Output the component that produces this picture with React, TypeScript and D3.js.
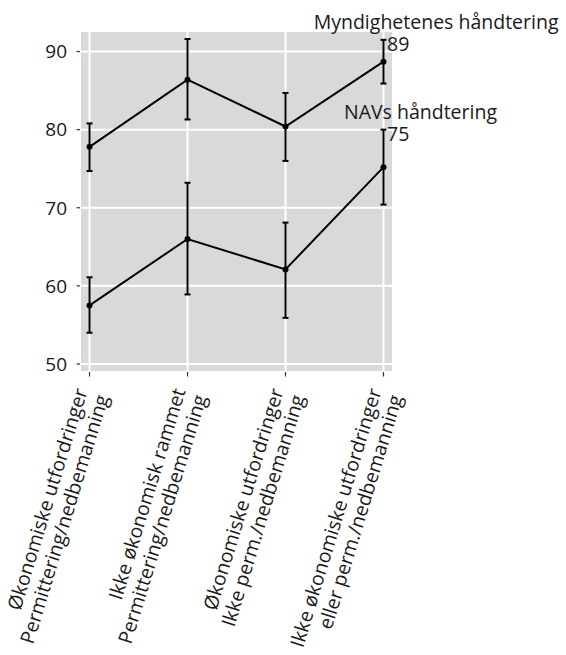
import React, { useEffect, useRef } from 'react';
import * as d3 from 'd3';

const WIDTH = 566;
const HEIGHT = 655;

const categories = [
  'Økonomiske utfordringer\nPermittering/nedbemanning',
  'Ikke økonomisk rammet\nPermittering/nedbemanning',
  'Økonomiske utfordringer\nIkke perm./nedbemanning',
  'Ikke økonomiske utfordringer\neller perm./nedbemanning',
];
const seriesNames = ['Myndighetenes håndtering', 'NAVs håndtering'];
const myndMean = [77.8, 86.4, 80.4, 88.7];
const myndLow = [74.7, 81.3, 76.0, 85.9];
const myndHigh = [80.8, 91.6, 84.7, 91.5];
const navMean = [57.5, 66.0, 62.1, 75.2];
const navLow = [54.0, 58.9, 55.9, 70.4];
const navHigh = [61.1, 73.2, 68.1, 80.0];
const yTicks = [50, 60, 70, 80, 90];

const FONT = "'Open Sans', sans-serif";

export default function App() {
  const chartRef = useRef(null);

  useEffect(() => {
    document.body.style.margin = '0';
    const svg = d3.select(chartRef.current);
    svg.selectAll('*').remove();

    const panel = { left: 81, right: 392, top: 32, bottom: 371 };

    const x = d3.scalePoint().domain(categories).range([panel.left, panel.right]).padding(0.087);
    const y = d3.scaleLinear().domain([49.1, 92.5]).range([panel.bottom, panel.top]);

    // panel background + grid
    svg.append('rect')
      .attr('x', panel.left).attr('y', panel.top)
      .attr('width', panel.right - panel.left).attr('height', panel.bottom - panel.top)
      .attr('fill', '#d9d9d9');

    svg.append('g').selectAll('line').data(yTicks).enter().append('line')
      .attr('x1', panel.left).attr('x2', panel.right)
      .attr('y1', (d) => y(d)).attr('y2', (d) => y(d))
      .attr('stroke', 'white').attr('stroke-width', 2);

    svg.append('g').selectAll('line').data(categories).enter().append('line')
      .attr('x1', (d) => x(d)).attr('x2', (d) => x(d))
      .attr('y1', panel.top).attr('y2', panel.bottom)
      .attr('stroke', 'white').attr('stroke-width', 2);

    // y axis
    const yAxis = svg.append('g');
    yAxis.selectAll('line').data(yTicks).enter().append('line')
      .attr('x1', panel.left - 4.5).attr('x2', panel.left - 1)
      .attr('y1', (d) => y(d)).attr('y2', (d) => y(d))
      .attr('stroke', '#333').attr('stroke-width', 1.2);
    yAxis.selectAll('text').data(yTicks).enter().append('text')
      .attr('x', panel.left - 14).attr('y', (d) => y(d)).attr('dy', '0.36em')
      .attr('text-anchor', 'end')
      .attr('font-family', FONT).attr('font-size', 19).attr('fill', '#1a1a1a')
      .text((d) => d);

    // x axis
    const xAxis = svg.append('g');
    xAxis.selectAll('line').data(categories).enter().append('line')
      .attr('x1', (d) => x(d)).attr('x2', (d) => x(d))
      .attr('y1', panel.bottom + 1).attr('y2', panel.bottom + 5.5)
      .attr('stroke', '#333').attr('stroke-width', 1.2);
    const xl = xAxis.selectAll('text').data(categories).enter().append('text')
      .attr('transform', (d) => `translate(${x(d) + 2},${panel.bottom + 21}) rotate(-73)`)
      .attr('text-anchor', 'end')
      .attr('font-family', FONT).attr('font-size', 19.5).attr('fill', '#1a1a1a');
    xl.each(function (d) {
      const lines = d.split('\n');
      d3.select(this).selectAll('tspan').data(lines).enter().append('tspan')
        .attr('x', 0).attr('y', (_, i) => -4 + i * 22)
        .text((l) => l);
    });

    const series = [
      { name: seriesNames[0], mean: myndMean, low: myndLow, high: myndHigh },
      { name: seriesNames[1], mean: navMean, low: navLow, high: navHigh },
    ];

    const line = d3.line().x((d) => d[0]).y((d) => d[1]);

    series.forEach((s) => {
      const g = svg.append('g');
      g.append('path')
        .attr('d', line(categories.map((c, i) => [x(c), y(s.mean[i])])))
        .attr('fill', 'none').attr('stroke', 'black').attr('stroke-width', 2);

      categories.forEach((c, i) => {
        const cx = x(c);
        g.append('line').attr('x1', cx).attr('x2', cx)
          .attr('y1', y(s.low[i])).attr('y2', y(s.high[i]))
          .attr('stroke', 'black').attr('stroke-width', 2);
        [s.low[i], s.high[i]].forEach((v) => {
          g.append('line').attr('x1', cx - 3).attr('x2', cx + 3)
            .attr('y1', y(v)).attr('y2', y(v))
            .attr('stroke', 'black').attr('stroke-width', 2);
        });
        g.append('circle').attr('cx', cx).attr('cy', y(s.mean[i])).attr('r', 3).attr('fill', 'black');
      });

      // label on last point: name + rounded value, justified at ~1/3
      const last = categories.length - 1;
      const ax = x(categories[last]) + 11;
      const ay = y(s.high[last]);
      const labelLines = [s.name, String(Math.round(s.mean[last]))];
      labelLines.forEach((txt, i) => {
        const t = g.append('text')
          .attr('y', ay + (i === 0 ? -11 : 11.5))
          .attr('font-family', FONT).attr('font-size', 19.5).attr('fill', '#1a1a1a')
          .text(txt);
        const w = t.node().getComputedTextLength();
        t.attr('x', ax - 0.33 * w);
      });
    });
  }, []);

  return <svg ref={chartRef} width={WIDTH} height={HEIGHT} style={{ display: 'block', background: 'white' }}></svg>;
}
